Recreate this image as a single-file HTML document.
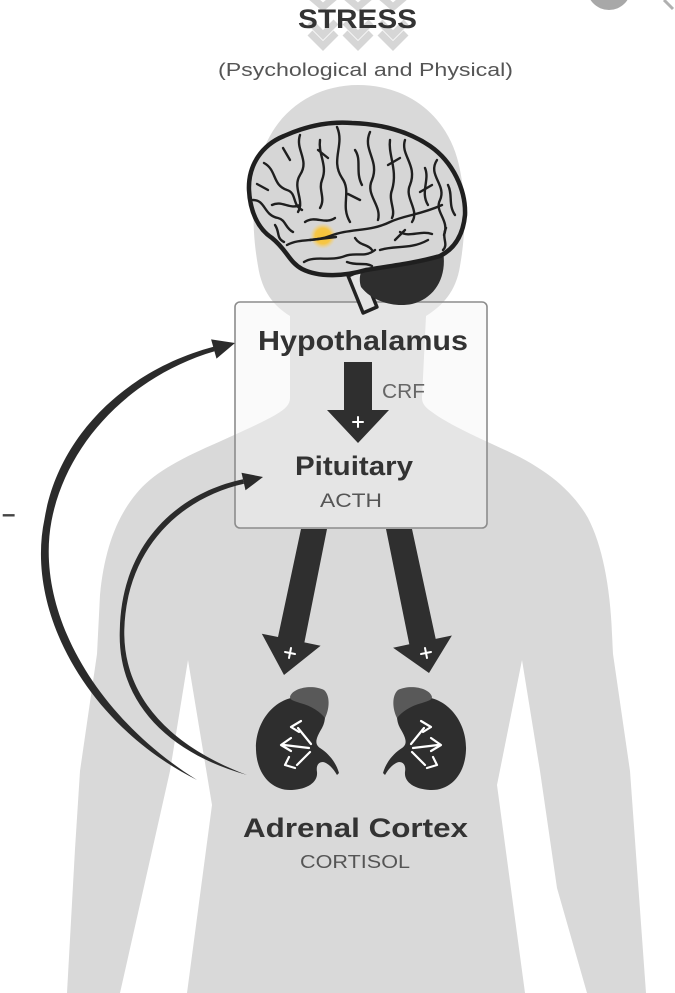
<!DOCTYPE html>
<html>
<head>
<meta charset="utf-8">
<style>
  html, body { margin:0; padding:0; background:#ffffff; }
  svg { display:block; }
  text { font-family: "Liberation Sans", Arial, sans-serif; }
</style>
</head>
<body>
<svg width="675" height="993" viewBox="0 0 675 993" xmlns="http://www.w3.org/2000/svg">
  <rect x="0" y="0" width="675" height="993" fill="#ffffff"/>

  <!-- top-right UI artifacts -->
  <circle cx="609" cy="-12" r="22" fill="#a8a8a8"/>
  <path d="M664,0 L673,9" stroke="#b0b0b0" stroke-width="3"/>

  <!-- body silhouette -->
  <path d="M 290,398 L 290,316 C 274,306 262,292 258,266 C 252,232 252,200 258,170 C 268,116 310,85 358,85 C 408,85 450,116 460,170 C 466,200 466,232 460,266 C 456,292 442,306 426,316 L 422,398 C 422,404 426,408 432,412 C 445,422 470,434 505,450 C 545,468 572,490 588,518 C 602,545 610,585 612,634 L 613,654 L 630,771 L 646,993 L 587,993 L 557,888 L 540,771 L 522,660 L 497,785 L 525,993 L 187,993 L 212,805 L 188,660 L 170,771 L 120,993 L 67,993 L 75,849 L 80,771 L 97,654 L 100,595 C 104,552 116,518 136,494 C 152,474 178,460 212,445 C 245,430 268,420 280,412 C 286,408 290,404 290,398 Z" fill="#d9d9d9"/>

  <!-- stress chevrons -->
  <g fill="none" stroke="#d6d6d6" stroke-width="7" stroke-linejoin="miter">
    <polyline points="310,-4 323,7 336,-4"/>
    <polyline points="345,-4 358,7 371,-4"/>
    <polyline points="380,-4 393,7 406,-4"/>
    <polyline points="310,22 323,35 336,22"/>
    <polyline points="310,33 323,46 336,33"/>
    <polyline points="345,22 358,35 371,22"/>
    <polyline points="345,33 358,46 371,33"/>
    <polyline points="380,22 393,35 406,22"/>
    <polyline points="380,33 393,46 406,33"/>
  </g>

  <text x="298" y="28" font-size="27" font-weight="bold" fill="#333" textLength="119" lengthAdjust="spacingAndGlyphs">STRESS</text>
  <text x="218" y="76" font-size="18" fill="#555" textLength="295" lengthAdjust="spacingAndGlyphs">(Psychological and Physical)</text>

  <!-- big arrows from box to kidneys -->
  <polygon points="301,529 327,529 304.4,642.4 320.6,645.7 284,675 261.8,633.7 278,637" fill="#2f2f2f"/>
  <polygon points="386,529 412,529 435.7,638.9 451.9,635.5 429,673 393.1,647.7 409.3,644.3" fill="#2f2f2f"/>
  <g stroke="#ffffff" stroke-width="2" stroke-linecap="round">
    <line x1="285" y1="652" x2="295" y2="654"/>
    <line x1="291" y1="648" x2="289" y2="658"/>
    <line x1="421" y1="654" x2="431" y2="652"/>
    <line x1="425" y1="648" x2="427" y2="658"/>
  </g>

  <!-- box -->
  <rect x="235" y="302" width="252" height="226" rx="5" fill="rgba(245,245,245,0.45)" stroke="#8c8c8c" stroke-width="1.6"/>

  <!-- brainstem -->
  <polygon points="361.9,270 348.1,276 363.1,313 376.9,307" fill="#e4e4e4" stroke="#222" stroke-width="3.5" stroke-linejoin="round"/>

  <!-- cerebellum -->
  <path d="M 442,246 C 449,275 436,298 412,304 C 392,308 371,300 361,287 C 358,278 361,270 365,264 C 390,263 420,256 442,246 Z" fill="#2e2e2e"/>

  <!-- cerebrum -->
  <path d="M 249,190 C 248,165 262,145 284,136 C 304,127 328,121 352,123 C 382,124 408,131 430,146 C 453,162 466,190 465,215 C 463,236 454,249 440,256 C 416,263 390,266 366,270 C 345,276 320,278 302,269 C 289,262 287,250 272,238 C 257,228 250,210 249,190 Z" fill="#d6d6d6" stroke="#1f1f1f" stroke-width="4.5"/>

  <!-- yellow spot -->
  <defs>
    <radialGradient id="yg" cx="50%" cy="50%" r="50%">
      <stop offset="0%" stop-color="#f6c338"/>
      <stop offset="60%" stop-color="#f6c646"/>
      <stop offset="100%" stop-color="#f6d37a" stop-opacity="0"/>
    </radialGradient>
  </defs>
  <circle cx="323" cy="236" r="13" fill="url(#yg)"/>

  <!-- sulci -->
  <g fill="none" stroke="#1f1f1f" stroke-width="2.4" stroke-linecap="round" stroke-linejoin="round">
    <path d="M 300,135 C 295,150 310,160 300,175 C 292,188 305,200 298,212"/>
    <path d="M 337,127 C 345,145 330,160 342,178 C 352,192 340,205 350,222"/>
    <path d="M 370,132 C 362,150 380,160 372,180 C 365,195 382,205 378,220"/>
    <path d="M 405,140 C 400,155 418,165 410,185 C 404,198 420,210 412,222"/>
    <path d="M 437,160 C 427,175 447,185 440,200 C 434,212 450,220 444,235"/>
    <path d="M 264,163 C 277,170 272,185 287,190 C 297,193 292,205 302,210"/>
    <path d="M 253,200 C 266,200 263,215 278,218 C 286,220 285,228 293,232"/>
    <path d="M 287,245 C 300,238 315,242 330,236 C 350,228 370,232 390,222 C 405,215 420,215 442,205"/>
    <path d="M 304,262 C 315,255 330,262 345,256 C 355,252 365,258 375,250"/>
    <path d="M 380,250 C 395,245 410,250 428,240"/>
    <path d="M 318,150 L 328,158"/>
    <path d="M 388,165 L 400,158"/>
    <path d="M 420,192 L 432,185"/>
    <path d="M 268,190 L 257,184"/>
    <path d="M 360,200 L 348,194"/>
    <path d="M 310,240 L 336,237"/>
    <path d="M 283,148 L 290,160"/>
    <path d="M 395,240 L 405,230"/>
    <path d="M 320,140 C 318,155 328,165 322,180 C 318,190 326,198 320,208"/>
    <path d="M 355,150 C 362,160 355,172 362,185"/>
    <path d="M 390,140 C 388,155 398,170 392,190 C 388,200 396,210 392,218"/>
    <path d="M 425,168 C 430,180 420,192 428,205"/>
    <path d="M 448,185 C 453,195 448,205 455,215"/>
    <path d="M 272,205 C 282,200 290,210 300,205"/>
    <path d="M 305,222 C 315,215 325,225 335,218"/>
    <path d="M 400,232 C 410,238 420,230 432,234"/>
    <path d="M 347,262 C 357,266 365,262 372,266"/>
    <path d="M 446,228 C 441,238 449,244 443,250"/>
    <path d="M 275,225 C 280,232 276,238 284,242"/>
    <path d="M 355,238 C 360,246 368,244 372,250"/>
  </g>

  <!-- box texts -->
  <text x="258" y="350" font-size="28" font-weight="bold" fill="#333" textLength="210" lengthAdjust="spacingAndGlyphs">Hypothalamus</text>

  <!-- CRF arrow -->
  <polygon points="344,362 372,362 372,410 389,410 358,443 327,410 344,410" fill="#2f2f2f"/>
  <g stroke="#ffffff" stroke-width="2" stroke-linecap="round">
    <line x1="353" y1="422" x2="363" y2="422"/>
    <line x1="358" y1="417" x2="358" y2="427"/>
  </g>
  <text x="382" y="398" font-size="20" fill="#666" textLength="43" lengthAdjust="spacingAndGlyphs">CRF</text>

  <text x="295" y="475" font-size="27" font-weight="bold" fill="#333" textLength="118" lengthAdjust="spacingAndGlyphs">Pituitary</text>
  <text x="320" y="507" font-size="19" fill="#555" textLength="62" lengthAdjust="spacingAndGlyphs">ACTH</text>

  <!-- outer feedback arrow -->
  <path d="M 197,780 C 87,725 25,611 44.5,519 C 58,436 126,370 213.5,346.8 L 214.6,351.2 C 130,376 66,444 51.5,521 C 35,609 93,715 197,780 Z" fill="#2b2b2b"/>
  <polygon points="235,343 216.5,358.6 211.1,339.4" fill="#2b2b2b"/>

  <!-- inner feedback arrow -->
  <path d="M 247,775 C 168,753 117,702 119.8,630 C 121.5,543 178,493 243,479.3 L 244,483.7 C 182,497.5 126.5,547 124.3,630 C 123,698 172,747 247,775 Z" fill="#2b2b2b"/>
  <polygon points="263,477 245.5,490.3 241.5,472.7" fill="#2b2b2b"/>

  <!-- minus -->
  <text x="2" y="522" font-size="24" font-weight="bold" fill="#444">–</text>

  <!-- kidneys -->
  <g id="kidL">
    <path d="M 296,697 C 272,700 255,724 256,750 C 257,776 273,791 292,790 C 308,789 318,782 317,772 C 316,766 318,762 323,762 C 328,763 333,768 337,775 L 339,773 C 336,762 328,753 320,748 C 314,744 316,738 322,728 C 327,719 326,706 318,700 C 311,695 303,696 296,697 Z" fill="#2e2e2e"/>
    <path d="M 290,697 C 292,688 312,684 324,690 C 330,695 330,708 325,718 C 320,712 312,706 300,703 C 294,701 290,700 290,697 Z" fill="#595959"/>
    <g fill="none" stroke="#ffffff" stroke-width="2.2" stroke-linecap="round" stroke-linejoin="round">
      <path d="M 311,744 L 298,728"/>
      <path d="M 301,721 L 291,727 L 299,732"/>
      <path d="M 309,748 L 284,745"/>
      <path d="M 291,738 L 281,745 L 291,751"/>
      <path d="M 310,752 L 297,765"/>
      <path d="M 289,757 L 285,765 L 295,768"/>
    </g>
  </g>
  <g transform="translate(722,0) scale(-1,1)">
    <path d="M 296,697 C 272,700 255,724 256,750 C 257,776 273,791 292,790 C 308,789 318,782 317,772 C 316,766 318,762 323,762 C 328,763 333,768 337,775 L 339,773 C 336,762 328,753 320,748 C 314,744 316,738 322,728 C 327,719 326,706 318,700 C 311,695 303,696 296,697 Z" fill="#2e2e2e"/>
    <path d="M 290,697 C 292,688 312,684 324,690 C 330,695 330,708 325,718 C 320,712 312,706 300,703 C 294,701 290,700 290,697 Z" fill="#595959"/>
    <g fill="none" stroke="#ffffff" stroke-width="2.2" stroke-linecap="round" stroke-linejoin="round">
      <path d="M 311,744 L 298,728"/>
      <path d="M 301,721 L 291,727 L 299,732"/>
      <path d="M 309,748 L 284,745"/>
      <path d="M 291,738 L 281,745 L 291,751"/>
      <path d="M 310,752 L 297,765"/>
      <path d="M 289,757 L 285,765 L 295,768"/>
    </g>
  </g>

  <text x="243" y="837" font-size="27" font-weight="bold" fill="#333" textLength="225" lengthAdjust="spacingAndGlyphs">Adrenal Cortex</text>
  <text x="300" y="868" font-size="18" fill="#555" textLength="110" lengthAdjust="spacingAndGlyphs">CORTISOL</text>
</svg>
</body>
</html>
